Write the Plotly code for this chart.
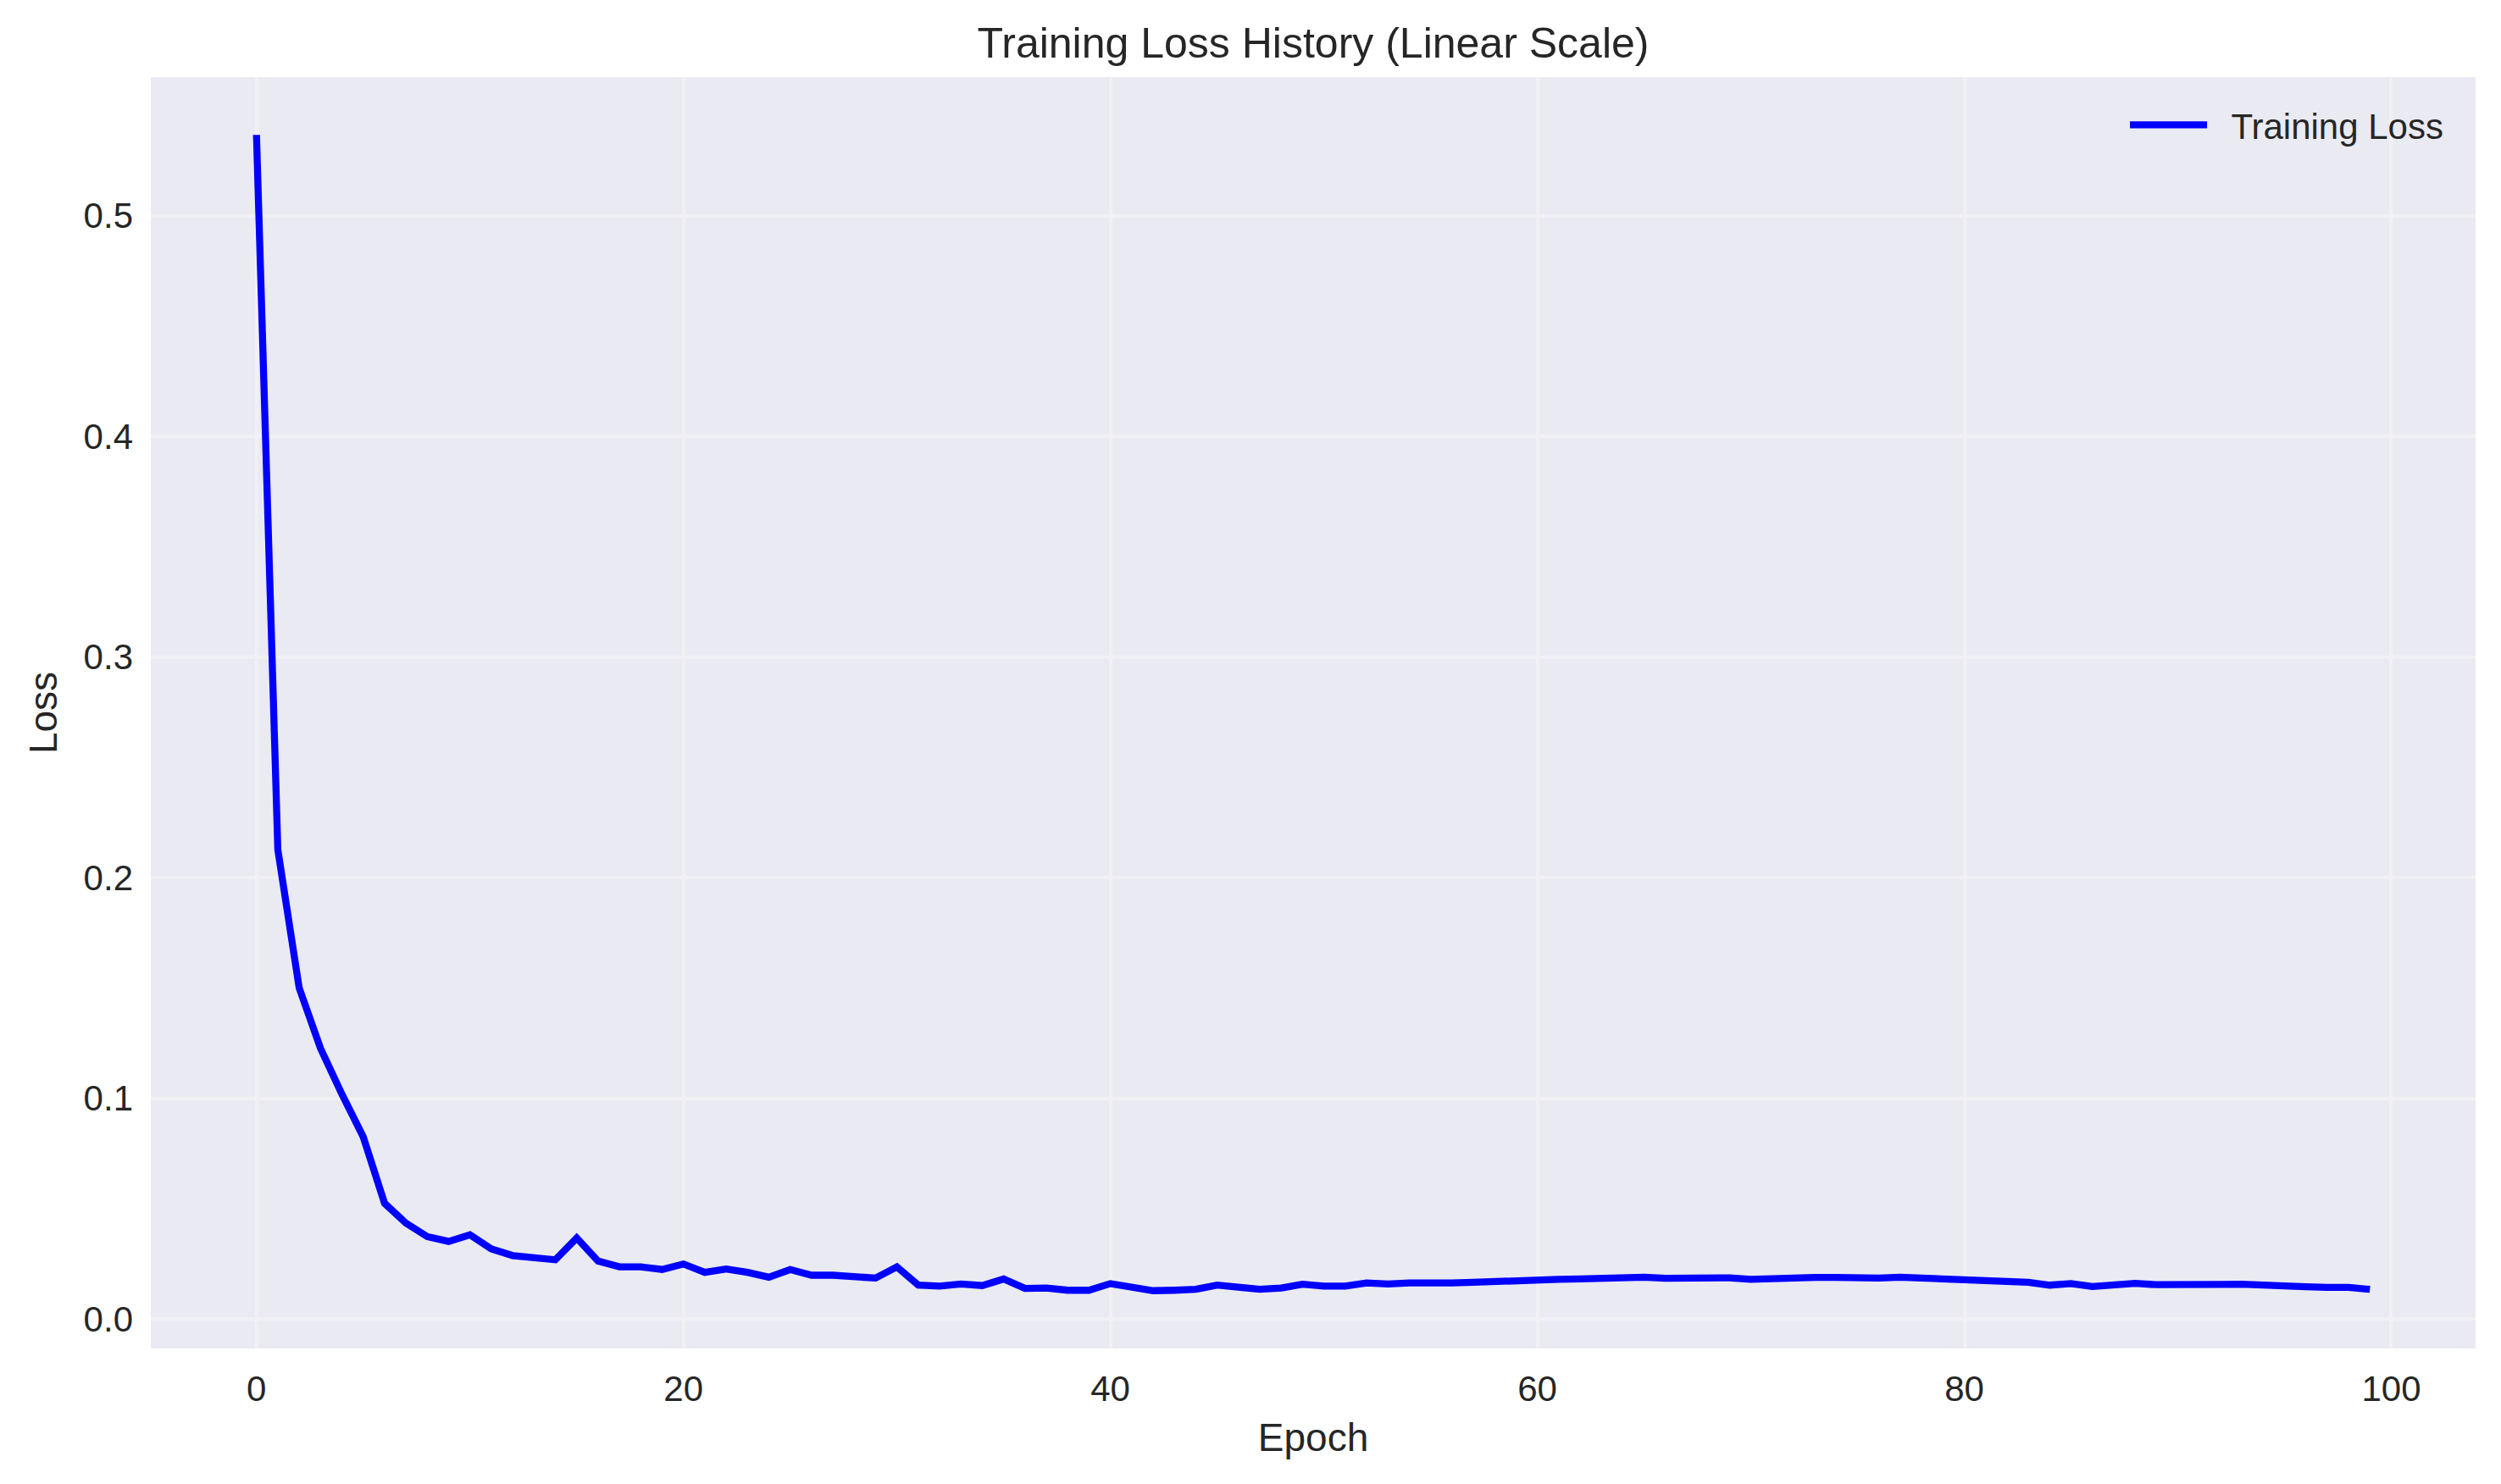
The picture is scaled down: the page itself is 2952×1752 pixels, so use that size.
import plotly.graph_objects as go

epochs = list(range(100))
loss = [
    0.5366, 0.2127, 0.1500, 0.1226, 0.1019, 0.0825, 0.0524, 0.0434, 0.0373, 0.0351,
    0.0381, 0.0317, 0.0287, 0.0281, 0.0268, 0.0367, 0.0262, 0.0236, 0.0236, 0.0224,
    0.0249, 0.0211, 0.0226, 0.0211, 0.0189, 0.0224, 0.0198, 0.0198, 0.0189, 0.0185,
    0.0236, 0.0153, 0.0149, 0.0158, 0.0151, 0.0181, 0.0138, 0.0140, 0.0130, 0.0130,
    0.0160, 0.0140, 0.0128, 0.0130, 0.0134, 0.0153, 0.0143, 0.0134, 0.0140, 0.0157,
    0.0149, 0.0149, 0.0163, 0.0158, 0.0163, 0.0161, 0.0163, 0.0166, 0.0170, 0.0175,
    0.0181, 0.0179, 0.0181, 0.0185, 0.0189, 0.0189, 0.0184, 0.0185, 0.0186, 0.0186,
    0.0179, 0.0184, 0.0185, 0.0188, 0.0188, 0.0183, 0.0185, 0.0189, 0.0185, 0.0183,
    0.0184, 0.0175, 0.0172, 0.0166, 0.0153, 0.0160, 0.0147, 0.0156, 0.0161, 0.0155,
    0.0153, 0.0153, 0.0156, 0.0157, 0.0151, 0.0148, 0.0146, 0.0143, 0.0143, 0.0134,
]
x_ticks = [0, 20, 40, 60, 80, 100]
y_ticks = [0.0, 0.1, 0.2, 0.3, 0.4, 0.5]
y_tick_labels = ["0.0", "0.1", "0.2", "0.3", "0.4", "0.5"]

FONT = "Liberation Sans, Arial, sans-serif"
TXT = "#262626"

W, H = 2944, 1744  # page body adds an 8px offset

fig = go.Figure()
fig.add_trace(go.Scatter(
    x=epochs, y=loss, mode="lines", name="\u00a0\u00a0Training Loss",
    line=dict(color="#0000FF", width=8.3),
))

fig.update_layout(
    width=W, height=H,
    margin=dict(l=170, r=30, t=83, b=160),
    paper_bgcolor="white",
    plot_bgcolor="#EAEAF2",
    font=dict(family=FONT, color=TXT, size=42),
    title=dict(
        text="Training Loss History (Linear Scale)",
        x=0.5, xanchor="center", xref="paper",
        y=1 - 42 / H, yanchor="middle", yref="container",
        font=dict(size=50, color=TXT, family=FONT),
    ),
    showlegend=True,
    legend=dict(
        x=0.988, xanchor="right", y=0.985, yanchor="top",
        bgcolor="rgba(0,0,0,0)", borderwidth=0,
        font=dict(size=42, color=TXT, family=FONT),
        itemwidth=91,
    ),
    xaxis=dict(
        range=[-4.95, 103.95],
        tickmode="array", tickvals=x_ticks,
        showgrid=True, gridcolor="#F1F1F5", gridwidth=4,
        zeroline=False, showline=False, ticks="",
        ticklabelstandoff=19,
        tickfont=dict(size=42, color=TXT, family=FONT),
        title=dict(text="Epoch", font=dict(size=46, color=TXT, family=FONT), standoff=18),
    ),
    yaxis=dict(
        range=[-0.0134, 0.5628],
        tickmode="array", tickvals=y_ticks, ticktext=y_tick_labels,
        showgrid=True, gridcolor="#F1F1F5", gridwidth=4,
        zeroline=False, showline=False, ticks="",
        ticklabelstandoff=20,
        tickfont=dict(size=42, color=TXT, family=FONT),
        title=dict(text="Loss", font=dict(size=46, color=TXT, family=FONT), standoff=16),
    ),
)

fig.write_html("out.html")
